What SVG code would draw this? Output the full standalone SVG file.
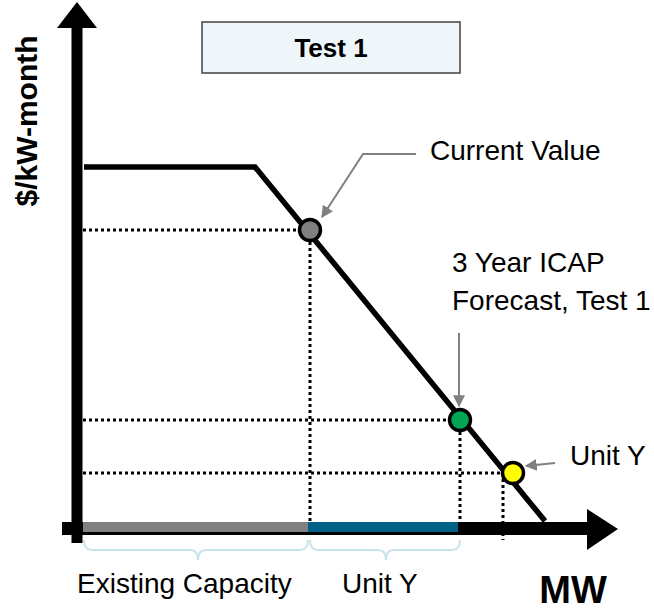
<svg xmlns="http://www.w3.org/2000/svg" width="654" height="611" viewBox="0 0 654 611">
<style>
.lbl{font-family:"Liberation Sans",Arial,sans-serif;font-size:28px;fill:#000}
.bold{font-weight:bold}
.dot{stroke:#000;stroke-width:3;stroke-dasharray:3 3;fill:none}
.call{stroke:#808080;stroke-width:2;fill:none}
.brk{stroke:#c9e4ea;stroke-width:2;fill:none}
.pt{stroke:#000;stroke-width:3.5}
</style>
<defs>
<marker id="ga" viewBox="0 0 10 10" refX="9" refY="5" markerWidth="6" markerHeight="6" orient="auto" markerUnits="strokeWidth">
<path d="M0,0 L10,5 L0,10 z" fill="#808080"/>
</marker>
</defs>
<rect width="654" height="611" fill="#fff"/>
<g id="connectors">
<path class="dot" d="M83,230 H310 M310,230 V522"/>
<path class="dot" d="M83,420 H460 M460,420 V522"/>
<path class="dot" d="M83,473 H513 M503,473 V540"/>
<path d="M77,28 V543" stroke="#000" stroke-width="11" fill="none"/>
<path d="M57,28 L77,2 L97,28 z" fill="#000"/>
<path d="M62,528.5 H590" stroke="#000" stroke-width="13" fill="none"/>
<path d="M587,509 L618,529 L587,550 z" fill="#000"/>
<rect x="83" y="522" width="225" height="10" fill="#7f7f7f"/>
<rect x="308" y="522" width="150" height="10" fill="#006086"/>
<path d="M84,167 H255 L545,521" stroke="#000" stroke-width="5.5" fill="none" stroke-linejoin="miter"/>
<path class="call" d="M416,154 H363 L322,217" marker-end="url(#ga)"/>
<path class="call" d="M459,333 V406" marker-end="url(#ga)"/>
<path class="call" d="M555,463 L526,466" marker-end="url(#ga)"/>
<path class="brk" d="M84,540 Q84,550 92,550 H190 Q198,550 198,560 Q198,550 206,550 H300 Q308,550 308,540"/>
<path class="brk" d="M310,540 Q310,550 318,550 H378 Q386,550 386,560 Q386,550 394,550 H452 Q460,550 460,540"/>
</g>
<g id="point-current"><circle class="pt" cx="310" cy="230" r="10.5" fill="#808080"/></g>
<g id="point-forecast"><circle class="pt" cx="460" cy="420" r="10.5" fill="#00a651"/></g>
<g id="point-unity"><circle class="pt" cx="513" cy="473" r="10.5" fill="#ffff00"/></g>
<g id="title">
<rect x="202" y="22" width="258" height="51" fill="#eef6fa" stroke="#404040" stroke-width="1.5"/>
<text class="lbl bold" x="331" y="57" text-anchor="middle" style="font-size:26px">Test 1</text>
</g>
<g id="ylabel"><text class="lbl bold" transform="translate(37,121) rotate(-90)" text-anchor="middle" style="font-size:30px">$/kW-month</text></g>
<g id="xlabel"><text class="lbl bold" x="573" y="603" text-anchor="middle" style="font-size:38px">MW</text></g>
<g id="label-current"><text class="lbl" x="430" y="160">Current Value</text></g>
<g id="label-forecast"><text class="lbl" x="452" y="272">3 Year ICAP</text><text class="lbl" x="452" y="310">Forecast, Test 1</text></g>
<g id="label-unity"><text class="lbl" x="570" y="465">Unit Y</text></g>
<g id="label-existing"><text class="lbl" x="77" y="593">Existing Capacity</text></g>
<g id="label-unity-bottom"><text class="lbl" x="342" y="593">Unit Y</text></g>
</svg>
